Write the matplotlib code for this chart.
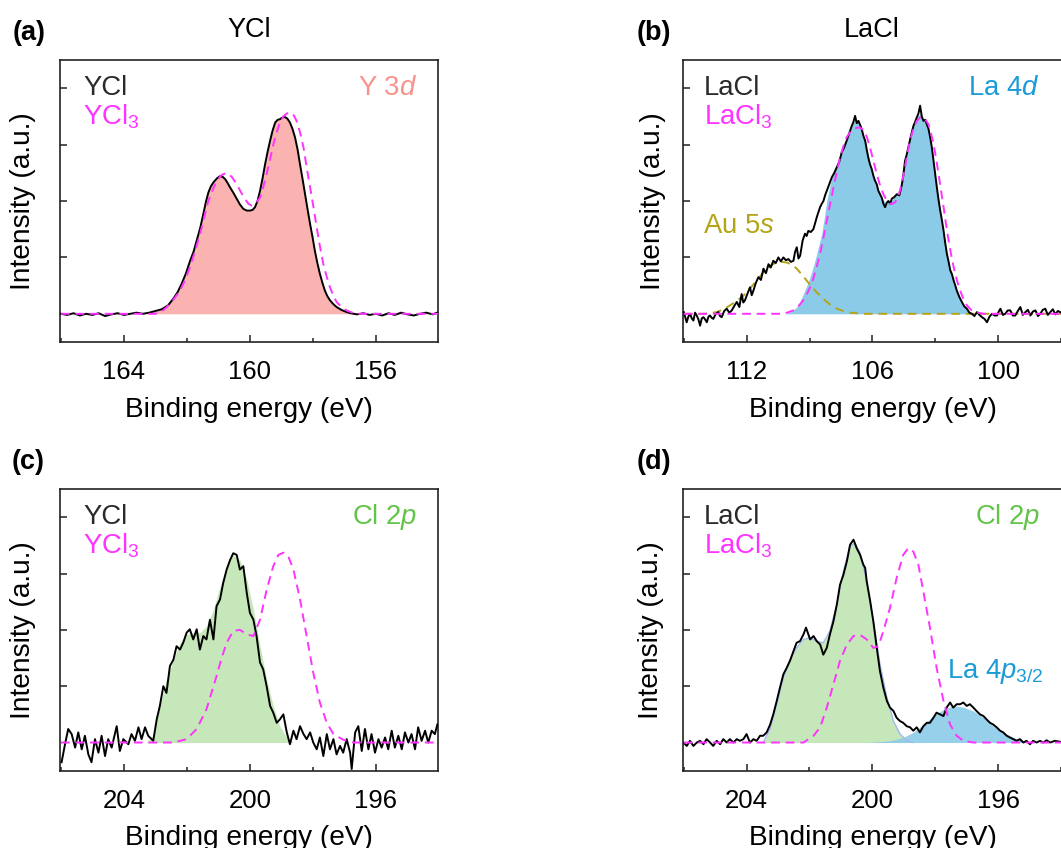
import numpy as np
import matplotlib
matplotlib.use("Agg")
import matplotlib.pyplot as plt
from matplotlib.ticker import MultipleLocator, FixedLocator

plt.rcParams['font.family'] = ['Liberation Sans', 'DejaVu Sans']
plt.rcParams['mathtext.fontset'] = 'custom'
plt.rcParams['mathtext.rm'] = 'Liberation Sans'
plt.rcParams['mathtext.it'] = 'Liberation Sans:italic'

# ---- (a) YCl, Y 3d ----
a_black_e = [166.0, 165.8, 165.6, 165.4, 165.2, 165.0, 164.8, 164.6, 164.4, 164.2, 164.0, 163.8, 163.6, 163.4,
             163.2, 163.0, 162.8, 162.6, 162.43, 162.3, 162.17, 162.03, 161.9, 161.79, 161.69, 161.58, 161.48,
             161.4, 161.32, 161.24, 161.16, 161.05, 160.95, 160.87, 160.79, 160.71, 160.63, 160.52, 160.42,
             160.32, 160.21, 160.1, 160.0, 159.92, 159.84, 159.76, 159.68, 159.6, 159.52, 159.44, 159.36,
             159.28, 159.2, 159.12, 159.05, 158.97, 158.89, 158.81, 158.73, 158.65, 158.57, 158.49, 158.41,
             158.33, 158.25, 158.17, 158.09, 158.01, 157.94, 157.86, 157.78, 157.7, 157.62, 157.54, 157.46,
             157.35, 157.25, 157.1, 156.93, 156.8, 156.6, 156.4, 156.2, 156.0, 155.8, 155.6, 155.4, 155.2,
             155.0, 154.8, 154.6, 154.4, 154.2, 154.0]
a_black_i = [0.0, -0.02, 0.01, -0.03, 0.0, -0.02, 0.01, -0.04, -0.01, 0.01, -0.02, 0.0, 0.02, 0.0,
             0.02, 0.05, 0.08, 0.15, 0.27, 0.38, 0.53, 0.72, 0.94, 1.1, 1.3, 1.52, 1.77,
             1.98, 2.15, 2.26, 2.33, 2.4, 2.44, 2.43, 2.39, 2.32, 2.24, 2.14, 2.04,
             1.94, 1.86, 1.83, 1.83, 1.84, 1.89, 2.0, 2.18, 2.4, 2.65, 2.87, 3.07,
             3.25, 3.39, 3.44, 3.45, 3.48, 3.49, 3.46, 3.39, 3.28, 3.13, 2.92, 2.65,
             2.39, 2.12, 1.85, 1.59, 1.35, 1.12, 0.9, 0.71, 0.55, 0.41, 0.31, 0.24,
             0.17, 0.12, 0.07, 0.03, 0.01, -0.01, 0.01, -0.02, 0.0, -0.03, 0.01, -0.02, 0.02,
             -0.01, -0.03, 0.0, 0.02, -0.01, 0.03]
a_ref_e = [166.0, 163.0, 162.8, 162.64, 162.43, 162.22, 162.06, 161.9, 161.74, 161.58, 161.45, 161.32, 161.18,
           161.05, 160.9, 160.74, 160.58, 160.42, 160.29, 160.16, 160.05, 159.95, 159.82, 159.68, 159.58,
           159.47, 159.36, 159.26, 159.15, 159.05, 158.94, 158.83, 158.75, 158.68, 158.6, 158.52, 158.41,
           158.3, 158.2, 158.09, 157.98, 157.88, 157.78, 157.67, 157.56, 157.46, 157.35, 157.25, 157.1,
           156.93, 156.75, 156.6, 154.0]
a_ref_i = [0, 0, 0.04, 0.12, 0.25, 0.41, 0.6, 0.83, 1.12, 1.42, 1.72, 2.0, 2.2,
           2.36, 2.46, 2.5, 2.43, 2.3, 2.16, 2.04, 1.95, 1.92, 1.96, 2.06, 2.24,
           2.48, 2.74, 3.0, 3.22, 3.39, 3.5, 3.55, 3.57, 3.56, 3.51, 3.42, 3.22,
           2.95, 2.6, 2.24, 1.88, 1.53, 1.2, 0.88, 0.65, 0.47, 0.32, 0.21, 0.12,
           0.06, 0.02, 0, 0]

# ---- (b) LaCl, La 4d + Au 5s ----
b_black_e = [115.0, 114.86, 114.78, 114.7, 114.62, 114.54, 114.46, 114.38, 114.3, 114.22, 114.14, 114.06, 113.98,
             113.9, 113.82, 113.75, 113.67, 113.59, 113.47, 113.35, 113.27, 113.19, 113.07, 112.95, 112.83,
             112.71, 112.59, 112.47, 112.35, 112.24, 112.16, 112.08, 111.96, 111.84, 111.76, 111.68, 111.56,
             111.44, 111.32, 111.2, 111.08, 110.96, 110.85, 110.73, 110.61, 110.49, 110.37, 110.25, 110.13,
             110.01, 109.89, 109.77, 109.69, 109.61, 109.53, 109.45, 109.33, 109.22, 109.14, 109.06, 108.94,
             108.82, 108.74, 108.66, 108.58, 108.5, 108.42, 108.34, 108.26, 108.18, 108.06, 107.94, 107.82,
             107.7, 107.58, 107.47, 107.35, 107.23, 107.11, 106.99, 106.91, 106.83, 106.75, 106.67, 106.59,
             106.51, 106.43, 106.35, 106.27, 106.2, 106.12, 106.04, 105.96, 105.88, 105.8, 105.72, 105.64,
             105.56, 105.48, 105.4, 105.32, 105.24, 105.16, 105.08, 104.96, 104.84, 104.72, 104.61, 104.53,
             104.45, 104.37, 104.29, 104.17, 104.05, 103.97, 103.89, 103.81, 103.73, 103.65, 103.57, 103.49,
             103.41, 103.33, 103.25, 103.17, 103.09, 103.01, 102.93, 102.85, 102.77, 102.69, 102.61, 102.53,
             102.45, 102.37, 102.29, 102.21, 102.13, 102.05, 101.98, 101.86, 101.74, 101.62, 101.5, 101.38,
             101.26, 101.14, 101.02, 100.9, 100.78, 100.66, 100.54, 100.42, 100.3, 100.18, 100.06, 99.98,
             99.9, 99.78, 99.67, 99.55, 99.43, 99.31, 99.19, 99.07, 98.95, 98.83, 98.71, 98.59, 98.47,
             98.35, 98.23, 98.11, 98.0, 97.88, 97.76, 97.64, 97.52, 97.4, 97.28, 97.16, 97.0]
b_black_i = [0.03, -0.15, -0.05, 0.0, -0.08, -0.12, 0.02, -0.03, -0.1, -0.21, -0.08, -0.06, -0.1,
             -0.15, -0.05, -0.03, -0.07, -0.09, 0.0, 0.03, -0.04, -0.06, 0.05, 0.09, 0.02,
             0.06, 0.14, 0.21, 0.12, 0.35, 0.2, 0.24, 0.36, 0.47, 0.33, 0.41, 0.55,
             0.65, 0.6, 0.8, 0.72, 0.88, 0.82, 0.94, 0.9, 1.0, 0.93, 1.0, 0.95,
             0.97, 0.92, 0.94, 1.1, 1.18, 0.98, 1.03, 1.3, 1.42, 1.38, 1.47, 1.45,
             1.5, 1.6, 1.71, 1.8, 1.89, 1.95, 2.0, 2.1, 2.18, 2.3, 2.42, 2.5,
             2.6, 2.7, 2.86, 2.95, 3.07, 3.2, 3.33, 3.4, 3.51, 3.38, 3.42, 3.35,
             3.27, 3.15, 3.07, 2.9, 2.77, 2.65, 2.57, 2.45, 2.36, 2.3, 2.18, 2.12,
             2.06, 1.95, 1.89, 1.97, 2.0, 1.95, 2.04, 2.07, 2.12, 2.1, 2.27, 2.45,
             2.71, 2.82, 2.95, 3.15, 3.33, 3.4, 3.48, 3.55, 3.69, 3.5, 3.42, 3.44,
             3.36, 3.28, 3.13, 2.95, 2.71, 2.48, 2.24, 2.02, 1.83, 1.66, 1.47, 1.25,
             1.06, 0.92, 0.77, 0.7, 0.59, 0.5, 0.41, 0.3, 0.21, 0.13, 0.09, 0.02,
             0.0, -0.04, 0.03, -0.02, -0.06, -0.09, -0.15, -0.05, 0.0, -0.03, -0.03, 0.04,
             0.09, -0.02, 0.0, 0.06, 0.06, -0.03, -0.03, 0.05, 0.12, -0.02, 0.03, 0.07, -0.03,
             0.04, 0.06, -0.04, 0.0, 0.07, 0.09, -0.02, 0.03, 0.08, -0.01, 0.05, 0.02]
b_fit_e = [110.2, 109.93, 109.77, 109.61, 109.45, 109.3, 109.14, 108.98, 108.82, 108.66, 108.54, 108.42, 108.3,
           108.18, 108.06, 107.94, 107.82, 107.7, 107.58, 107.47, 107.35, 107.23, 107.11, 106.99, 106.83,
           106.67, 106.51, 106.35, 106.2, 106.04, 105.88, 105.72, 105.56, 105.4, 105.24, 105.08, 104.84,
           104.61, 104.45, 104.29, 104.17, 104.05, 103.89, 103.73, 103.57, 103.41, 103.25, 103.09, 102.93,
           102.77, 102.61, 102.45, 102.29, 102.13, 101.98, 101.86, 101.74, 101.62, 101.5, 101.38, 101.26]
b_fit_i = [0, 0.03, 0.07, 0.12, 0.22, 0.35, 0.49, 0.65, 0.84, 1.06, 1.24, 1.42, 1.7,
           2.0, 2.22, 2.42, 2.52, 2.6, 2.74, 2.86, 2.97, 3.07, 3.2, 3.33, 3.45,
           3.42, 3.27, 3.07, 2.8, 2.57, 2.36, 2.18, 2.06, 1.97, 1.98, 2.02, 2.12,
           2.3, 2.65, 2.95, 3.15, 3.33, 3.48, 3.55, 3.45, 3.36, 3.13, 2.71, 2.24,
           1.83, 1.47, 1.06, 0.77, 0.59, 0.41, 0.3, 0.21, 0.14, 0.09, 0.04, 0.0]
b_au_e = [115.0, 114.0, 113.43, 113.1, 112.79, 112.47, 112.16, 111.84, 111.52, 111.28, 111.04, 110.8, 110.57,
          110.33, 110.09, 109.85, 109.61, 109.38, 109.14, 108.9, 108.66, 108.42, 108.18, 107.94, 107.7,
          107.4, 107.07, 106.43, 97.0]
b_au_i = [0, 0, 0.03, 0.08, 0.15, 0.23, 0.32, 0.45, 0.59, 0.7, 0.8, 0.87, 0.91,
          0.92, 0.91, 0.87, 0.8, 0.7, 0.59, 0.48, 0.38, 0.29, 0.21, 0.14, 0.09,
          0.05, 0.02, 0, 0]
b_ref_e = [115.0, 110.25, 110.0, 109.77, 109.54, 109.3, 109.1, 108.9, 108.7, 108.5, 108.34, 108.18, 108.02,
           107.86, 107.7, 107.55, 107.39, 107.23, 107.07, 106.91, 106.75, 106.59, 106.47, 106.35, 106.24,
           106.12, 105.96, 105.8, 105.64, 105.48, 105.32, 105.16, 105.04, 104.92, 104.8, 104.69, 104.57,
           104.45, 104.33, 104.21, 104.05, 103.89, 103.73, 103.57, 103.45, 103.33, 103.21, 103.09, 102.97,
           102.85, 102.73, 102.61, 102.49, 102.37, 102.25, 102.13, 101.98, 101.82, 101.66, 101.5, 101.3,
           101.1, 100.7, 97.0]
b_ref_i = [0, 0, 0.03, 0.06, 0.13, 0.24, 0.37, 0.53, 0.78, 1.06, 1.35, 1.65, 1.95,
           2.24, 2.52, 2.77, 2.97, 3.13, 3.22, 3.27, 3.3, 3.3, 3.27, 3.22, 3.1,
           2.95, 2.72, 2.48, 2.28, 2.12, 2.01, 1.95, 1.95, 1.98, 2.06, 2.18, 2.37,
           2.6, 2.85, 3.07, 3.28, 3.42, 3.48, 3.48, 3.43, 3.36, 3.2, 3.01, 2.76,
           2.48, 2.18, 1.89, 1.58, 1.3, 1.05, 0.83, 0.6, 0.41, 0.26, 0.15, 0.07,
           0.03, 0, 0]

# ---- (c) YCl, Cl 2p ----
c_black_e = [205.98, 205.87, 205.77, 205.66, 205.55, 205.45, 205.34, 205.24, 205.13, 205.03, 204.92, 204.81,
             204.71, 204.6, 204.5, 204.39, 204.23, 204.13, 204.02, 203.86, 203.76, 203.65, 203.54, 203.44,
             203.33, 203.23, 203.07, 202.96, 202.86, 202.75, 202.65, 202.54, 202.43, 202.33, 202.22, 202.12,
             202.01, 201.91, 201.8, 201.69, 201.59, 201.48, 201.38, 201.27, 201.16, 201.06, 200.95, 200.85,
             200.74, 200.63, 200.53, 200.42, 200.32, 200.21, 200.1, 200.0, 199.89, 199.79, 199.68, 199.58,
             199.47, 199.36, 199.26, 199.15, 199.05, 198.94, 198.83, 198.73, 198.62, 198.52, 198.41, 198.3,
             198.2, 198.09, 197.99, 197.88, 197.78, 197.67, 197.56, 197.46, 197.35, 197.25, 197.14, 197.04,
             196.93, 196.82, 196.77, 196.66, 196.56, 196.45, 196.35, 196.24, 196.14, 196.03, 195.92, 195.82,
             195.71, 195.61, 195.5, 195.4, 195.29, 195.18, 195.08, 194.97, 194.87, 194.76, 194.66, 194.55,
             194.44, 194.34, 194.23, 194.13, 194.05]
c_black_i = [-0.35, -0.03, 0.24, 0.15, -0.09, 0.18, -0.12, 0.12, -0.21, -0.35, 0.06, -0.18,
             0.12, -0.24, 0.06, -0.09, 0.29, -0.15, 0.06, -0.03, 0.15, 0.03, 0.27, 0.06,
             0.27, 0.12, 0.03, 0.41, 0.65, 1.0, 0.88, 1.36, 1.47, 1.71, 1.65, 1.77,
             1.95, 2.01, 1.83, 2.01, 1.65, 1.89, 1.83, 2.18, 1.83, 2.42, 2.54, 2.83,
             3.07, 3.24, 3.36, 3.33, 3.07, 3.13, 2.65, 2.3, 2.18, 1.89, 1.42, 1.3,
             1.0, 0.65, 0.53, 0.35, 0.41, 0.5, 0.18, -0.03, 0.21, 0.06, 0.29, 0.15,
             0.06, 0.18, 0.0, -0.12, 0.09, -0.24, 0.15, -0.12, 0.06, -0.21, -0.06, -0.18,
             0.06, -0.18, -0.47, 0.18, 0.29, -0.15, 0.24, -0.12, 0.15, -0.18, 0.06, -0.09,
             0.09, -0.12, 0.21, -0.09, 0.12, -0.12, 0.18, 0.0, 0.15, -0.12, 0.27, 0.03,
             0.21, 0.0, 0.21, 0.15, 0.32]
c_fit_e = [203.3, 203.07, 202.86, 202.65, 202.43, 202.22, 202.01, 201.8, 201.59, 201.38, 201.16, 200.95,
           200.74, 200.53, 200.32, 200.1, 199.89, 199.68, 199.47, 199.26, 199.05, 198.83, 198.62]
c_fit_i = [0, 0.12, 0.65, 1.12, 1.47, 1.77, 1.92, 1.95, 1.95, 2.06, 2.36, 2.77,
           3.13, 3.33, 3.24, 2.89, 2.36, 1.71, 1.12, 0.65, 0.29, 0.09, 0]
c_ref_e = [206.0, 202.43, 202.01, 201.69, 201.38, 201.06, 200.9, 200.74, 200.53, 200.32, 200.1, 199.89,
           199.68, 199.47, 199.26, 199.1, 198.94, 198.78, 198.62, 198.41, 198.2, 197.99, 197.78, 197.56,
           197.35, 197.04, 196.72, 194.0]
c_ref_i = [0, 0, 0.06, 0.24, 0.59, 1.18, 1.5, 1.77, 1.98, 2.0, 1.92, 1.89,
           2.18, 2.71, 3.13, 3.33, 3.37, 3.3, 3.07, 2.54, 1.89, 1.24, 0.71, 0.35,
           0.15, 0.05, 0, 0]

# ---- (d) LaCl, Cl 2p + La 4p3/2 ----
d_black_e = [206.01, 205.9, 205.8, 205.69, 205.58, 205.48, 205.37, 205.27, 205.16, 205.06, 204.95, 204.84,
             204.74, 204.63, 204.53, 204.42, 204.31, 204.21, 204.1, 204.0, 203.89, 203.78, 203.68, 203.57,
             203.47, 203.36, 203.25, 203.15, 203.04, 202.94, 202.83, 202.72, 202.62, 202.51, 202.41, 202.3,
             202.19, 202.11, 201.98, 201.87, 201.77, 201.66, 201.56, 201.45, 201.35, 201.24, 201.13, 201.03,
             200.92, 200.81, 200.71, 200.6, 200.5, 200.39, 200.29, 200.23, 200.18, 200.07, 199.97, 199.86,
             199.76, 199.65, 199.54, 199.44, 199.33, 199.23, 199.12, 199.02, 198.91, 198.8, 198.7, 198.59,
             198.49, 198.38, 198.27, 198.17, 198.06, 197.96, 197.85, 197.74, 197.64, 197.53, 197.43, 197.32,
             197.21, 197.11, 197.0, 196.9, 196.79, 196.69, 196.58, 196.47, 196.37, 196.26, 196.16, 196.05,
             195.94, 195.84, 195.73, 195.63, 195.52, 195.42, 195.31, 195.2, 195.1, 194.99, 194.89, 194.78,
             194.67, 194.57, 194.46, 194.35, 194.2, 194.0]
d_black_i = [0.0, -0.06, 0.03, -0.06, 0.0, 0.03, -0.03, 0.06, 0.0, -0.06, 0.03, -0.03,
             0.06, 0.0, 0.06, 0.0, 0.06, 0.03, 0.06, 0.15, 0.0, 0.06, 0.03, 0.12,
             0.12, 0.18, 0.32, 0.5, 0.74, 0.97, 1.21, 1.33, 1.45, 1.62, 1.77, 1.8,
             1.92, 2.04, 1.83, 1.89, 1.8, 1.74, 1.56, 1.68, 1.92, 2.15, 2.45, 2.8,
             2.98, 3.22, 3.51, 3.6, 3.45, 3.33, 3.16, 3.1, 2.86, 2.51, 2.15, 1.68,
             1.27, 0.97, 0.74, 0.62, 0.56, 0.44, 0.38, 0.35, 0.29, 0.27, 0.21, 0.27,
             0.18, 0.29, 0.35, 0.35, 0.44, 0.53, 0.5, 0.47, 0.62, 0.71, 0.62, 0.68,
             0.68, 0.71, 0.65, 0.68, 0.62, 0.56, 0.5, 0.47, 0.41, 0.35, 0.32, 0.27,
             0.21, 0.18, 0.12, 0.09, 0.06, 0.03, 0.06, 0.0, 0.03, -0.03, 0.03, 0.0,
             0.03, 0.0, 0.04, 0.0, 0.03, 0.01]
d_cl_e = [203.47, 203.25, 203.04, 202.83, 202.62, 202.41, 202.19, 201.98, 201.77, 201.56, 201.35, 201.13,
          200.92, 200.71, 200.55, 200.39, 200.18, 199.97, 199.76, 199.54, 199.33, 199.12, 198.91, 198.7]
d_cl_i = [0, 0.24, 0.68, 1.15, 1.47, 1.68, 1.83, 1.86, 1.8, 1.77, 1.98, 2.45,
          3.04, 3.48, 3.54, 3.36, 2.86, 2.15, 1.39, 0.8, 0.38, 0.15, 0.04, 0]
d_la_e = [200.3, 199.9, 199.44, 199.02, 198.7, 198.38, 198.06, 197.74, 197.43, 197.11, 196.79, 196.47,
          196.16, 195.84, 195.52, 195.2, 194.89]
d_la_i = [0, 0.01, 0.03, 0.09, 0.18, 0.32, 0.47, 0.59, 0.65, 0.63, 0.56, 0.44,
          0.29, 0.18, 0.09, 0.03, 0]
d_ref_e = [206.0, 202.19, 201.87, 201.66, 201.45, 201.24, 201.03, 200.81, 200.6, 200.39, 200.18, 199.97,
           199.81, 199.65, 199.44, 199.23, 199.02, 198.86, 198.7, 198.54, 198.38, 198.17, 197.96, 197.74,
           197.53, 197.32, 197.11, 196.79, 194.0]
d_ref_i = [0, 0, 0.12, 0.27, 0.62, 1.03, 1.45, 1.74, 1.89, 1.91, 1.83, 1.68,
           1.71, 1.98, 2.39, 2.92, 3.33, 3.45, 3.39, 3.16, 2.68, 2.04, 1.33, 0.74,
           0.32, 0.12, 0.03, 0, 0]

MAGENTA = '#ff33ff'
RED_FILL, RED_TXT = '#fbb3b1', '#f7938c'
BLUE_FILL, BLUE_TXT = '#8ccbe8', '#1b9bd7'
GREEN_FILL, GREEN_TXT = '#c6e7b9', '#62c448'
OLIVE = '#b4a418'
TICK_FS = 18.5
LABEL_FS = 20.2
TXT_FS = 19.8
dash = (0, (4.5, 3))

W, H = 1061, 848
fig = plt.figure(figsize=(W / 100, H / 100), dpi=100)


def make_ax(x0, y_top, w, h, xlim, major, minor, offset, ylab_x):
    ax = fig.add_axes([x0 / W, 1 - (y_top + h) / H, w / W, h / H])
    ax.set_xlim(*xlim)
    ax.set_ylim(-0.5, 4.5)
    ax.xaxis.set_major_locator(MultipleLocator(major, offset=offset))
    ax.xaxis.set_minor_locator(MultipleLocator(minor, offset=offset % minor))
    ax.yaxis.set_major_locator(FixedLocator([1, 2, 3, 4]))
    ax.set_yticklabels([])
    ax.tick_params(which='both', direction='in', top=False, right=False, width=1.1, color='#222222')
    ax.tick_params(which='major', length=5, labelsize=TICK_FS)
    ax.tick_params(axis='x', which='major', pad=13)
    ax.tick_params(which='minor', length=3)
    for s in ax.spines.values():
        s.set_linewidth(1.2)
        s.set_color('#222222')
    ax.set_xlabel('Binding energy (eV)', fontsize=LABEL_FS, labelpad=9)
    ax.set_ylabel('Intensity (a.u.)', fontsize=LABEL_FS)
    ax.yaxis.set_label_coords(ylab_x, 0.5)
    return ax


def legend_txt(ax, x, name, ref):
    ax.text(x, 0.876, name, transform=ax.transAxes, fontsize=TXT_FS, color='#2a2a2a', va='baseline')
    ax.text(x, 0.770, ref, transform=ax.transAxes, fontsize=TXT_FS, color=MAGENTA, va='baseline')


def noisy(ax, e, i):
    ax.plot(e, i, color='black', lw=1.4, zorder=3)


def ref(ax, e, i):
    ax.plot(e, i, color=MAGENTA, lw=1.4, ls=dash, zorder=4)


def tag(ax, x, y, s, c, ha='left'):
    ax.text(x, y, s, transform=ax.transAxes, fontsize=TXT_FS, color=c, ha=ha, va='baseline')


# (a)
ax = make_ax(60, 60, 378, 282, (166.03, 154.03), 4, 2, 0, -0.063)
ax.fill_between(a_black_e, 0, np.clip(a_black_i, 0, None), color=RED_FILL, lw=0, zorder=1)
noisy(ax, a_black_e, a_black_i)
ref(ax, a_ref_e, a_ref_i)
legend_txt(ax, 0.061, 'YCl', 'YCl$_3$')
tag(ax, 0.944, 0.876, 'Y 3$\\mathit{d}$', RED_TXT, 'right')

# (b)
ax = make_ax(682.7, 60, 380, 282, (115.05, 96.93), 6, 3, 4, -0.045)
ax.fill_between(b_fit_e, 0, b_fit_i, color=BLUE_FILL, lw=0, zorder=1)
noisy(ax, b_black_e, b_black_i)
ax.plot(b_au_e, b_au_i, color=OLIVE, lw=1.4, ls=dash, zorder=2)
ref(ax, b_ref_e, b_ref_i)
legend_txt(ax, 0.056, 'LaCl', 'LaCl$_3$')
tag(ax, 0.94, 0.876, 'La 4$\\mathit{d}$', BLUE_TXT, 'right')
tag(ax, 0.054, 0.387, 'Au 5$\\mathit{s}$', OLIVE)

# (c)
ax = make_ax(60, 489, 378, 281.7, (206.03, 194.03), 4, 2, 0, -0.063)
ax.fill_between(c_fit_e, 0, c_fit_i, color=GREEN_FILL, lw=0, zorder=1)
noisy(ax, c_black_e, c_black_i)
ref(ax, c_ref_e, c_ref_i)
legend_txt(ax, 0.061, 'YCl', 'YCl$_3$')
tag(ax, 0.944, 0.876, 'Cl 2$\\mathit{p}$', GREEN_TXT, 'right')

# (d)
ax = make_ax(682.7, 489, 380, 281.7, (206.03, 193.95), 4, 2, 0, -0.05)
ax.fill_between(d_cl_e, 0, d_cl_i, color=GREEN_FILL, lw=0, zorder=1)
ax.plot(d_cl_e, d_cl_i, color='#a4b8f0', lw=1.0, zorder=1.5)
ax.fill_between(d_la_e, 0, d_la_i, color=BLUE_FILL, lw=0, alpha=0.9, zorder=1.2)
noisy(ax, d_black_e, d_black_i)
ref(ax, d_ref_e, d_ref_i)
legend_txt(ax, 0.056, 'LaCl', 'LaCl$_3$')
tag(ax, 0.94, 0.876, 'Cl 2$\\mathit{p}$', GREEN_TXT, 'right')
tag(ax, 0.695, 0.329, 'La 4$\\mathit{p}_{3/2}$', BLUE_TXT)

# panel letters and titles
for lbl, x, y in [('(a)', 13, 33), ('(b)', 637, 33), ('(c)', 12, 462), ('(d)', 637, 462)]:
    fig.text(x / W, 1 - y / H, lbl, fontsize=19.5, fontweight='bold', va='center')
fig.text(249 / W, 1 - 37 / H, 'YCl', fontsize=19.5, ha='center', va='baseline')
fig.text(872 / W, 1 - 37 / H, 'LaCl', fontsize=19.5, ha='center', va='baseline')

fig.savefig('out.png', dpi=100)
